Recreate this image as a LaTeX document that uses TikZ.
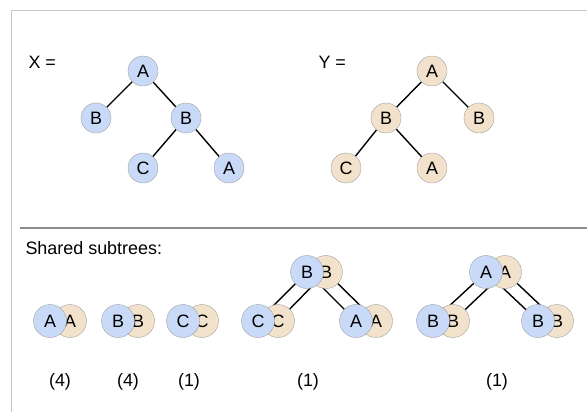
\documentclass[tikz,border=0pt]{standalone}
\usepackage{fontspec}
\setmainfont{Liberation Sans}
\usetikzlibrary{positioning,backgrounds}
\definecolor{xfill}{HTML}{C9DAF8}
\definecolor{yfill}{HTML}{F3E2CB}
\definecolor{rim}{HTML}{A0A0A0}

\begin{document}
\begin{tikzpicture}[
    x=1bp, y=-1bp,
    on grid,
    every node/.style={font=\fontsize{18}{21}\selectfont},
    xnode/.style={circle, draw=rim, fill=xfill, minimum size=30bp, inner sep=0pt},
    ynode/.style={circle, draw=rim, fill=yfill, minimum size=30bp, inner sep=0pt},
    big/.style={minimum size=33bp},
    edge/.style={line width=1.4bp},
    framerule/.style={draw=black!22, line width=1bp},
    splitrule/.style={draw=black!45, line width=1.8bp}
  ]
  \useasboundingbox (0,0) rectangle (587,412);

  % Frame and separator
  \coordinate (fa) at (11,10);
  \coordinate (fb) at (587,10);
  \coordinate (fc) at (11,412);
  \coordinate (sa) at (20,228);
  \coordinate (sb) at (587,228);
  \draw[framerule] (fb) -- (fa) -- (fc);
  \draw[splitrule] (sa) -- (sb);

  % Top left: tree X
  \node[anchor=west] (xlabel) at (25,62) {X =};
  \node[xnode] (xa) at (143,71) {A};
  \node[xnode, below left=47bp and 47bp of xa] (xb) {B};
  \node[xnode, below right=47bp and 43bp of xa] (xbb) {B};
  \node[xnode, below left=50bp and 43bp of xbb] (xc) {C};
  \node[xnode, below right=50bp and 43bp of xbb] (xaa) {A};

  % Top right: tree Y
  \node[anchor=west] (ylabel) at (315,62) {Y =};
  \node[ynode] (ya) at (432,71) {A};
  \node[ynode, below left=47bp and 46bp of ya] (yb) {B};
  \node[ynode, below right=47bp and 47bp of ya] (ybb) {B};
  \node[ynode, below left=50bp and 40bp of yb] (yc) {C};
  \node[ynode, below right=50bp and 46bp of yb] (yaa) {A};

  % Bottom: shared subtrees
  \node[anchor=west] (shared) at (22,248) {Shared subtrees:};

  \node[ynode, big] (s1y) at (70,321) {A};
  \node[xnode, big, left=20bp of s1y] (s1x) {A};
  \node[ynode, big] (s2y) at (138,321) {B};
  \node[xnode, big, left=20bp of s2y] (s2x) {B};
  \node[ynode, big] (s3y) at (202,321) {C};
  \node[xnode, big, left=19bp of s3y] (s3x) {C};

  \node[ynode, big] (s4by) at (326,272) {B};
  \node[ynode, big] (s4cy) at (278,321) {C};
  \node[ynode, big] (s4ay) at (376,321) {A};
  \node[xnode, big, left=19bp of s4by] (s4bx) {B};
  \node[xnode, big, left=20bp of s4cy] (s4cx) {C};
  \node[xnode, big, left=20bp of s4ay] (s4ax) {A};

  \node[ynode, big] (s5ay) at (505,272) {A};
  \node[ynode, big] (s5by) at (453,321) {B};
  \node[ynode, big] (s5bby) at (557,321) {B};
  \node[xnode, big, left=19bp of s5ay] (s5ax) {A};
  \node[xnode, big, left=20bp of s5by] (s5bx) {B};
  \node[xnode, big, left=19bp of s5bby] (s5bbx) {B};

  \node (n1) at (60,382) {(4)};
  \node (n2) at (128,382) {(4)};
  \node (n3) at (189,382) {(1)};
  \node (n4) at (308,382) {(1)};
  \node (n5) at (497,382) {(1)};

  % Edges behind the circles
  \begin{scope}[on background layer]
    \draw[edge] (xa) -- (xb);
    \draw[edge] (xa) -- (xbb);
    \draw[edge] (xbb) -- (xc);
    \draw[edge] (xbb) -- (xaa);
    \draw[edge] (ya) -- (yb);
    \draw[edge] (ya) -- (ybb);
    \draw[edge] (yb) -- (yc);
    \draw[edge] (yb) -- (yaa);
    \draw[edge] (s4bx.center) -- (s4cx.center);
    \draw[edge] (s4bx.center) -- (s4ax.center);
    \draw[edge] (s4by.center) -- (s4cy.center);
    \draw[edge] (s4by.center) -- (s4ay.center);
    \draw[edge] (s5ax.center) -- (s5bx.center);
    \draw[edge] (s5ax.center) -- (s5bbx.center);
    \draw[edge] (s5ay.center) -- (s5by.center);
    \draw[edge] (s5ay.center) -- (s5bby.center);
  \end{scope}
\end{tikzpicture}
\end{document}
